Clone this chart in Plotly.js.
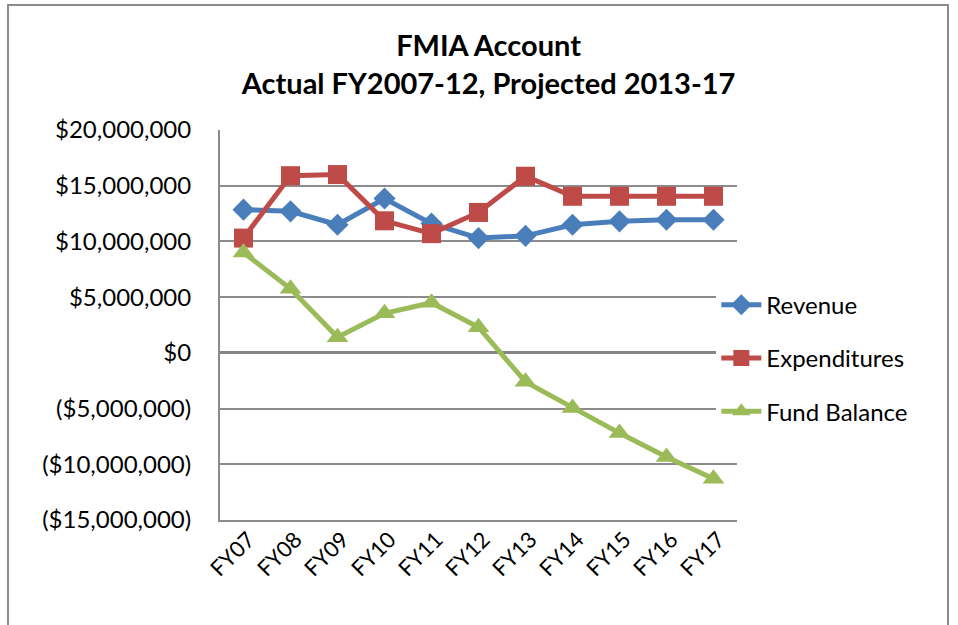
<!DOCTYPE html>
<html>
<head>
<meta charset="utf-8">
<script src="https://cdn.plot.ly/plotly-3.0.1.min.js"></script>
<style>
html,body{margin:0;padding:0;background:#fff;}
#chart{width:958px;height:625px;position:absolute;left:0;top:0;}
#frame{position:absolute;left:7px;top:4px;width:938px;height:660px;border:2px solid #8c8c8c;pointer-events:none;}
</style>
</head>
<body>
<div id="chart"></div>
<div id="frame"></div>
<script>
var categories = ["FY07","FY08","FY09","FY10","FY11","FY12","FY13","FY14","FY15","FY16","FY17"];
var revenue = [12850000,12700000,11500000,13850000,11600000,10300000,10500000,11500000,11800000,11950000,11950000];
var expenditures = [10300000,15900000,16000000,11850000,10700000,12600000,15850000,14050000,14050000,14050000,14050000];
var fundBalance = [9000000,5750000,1400000,3550000,4500000,2300000,-2600000,-4950000,-7200000,-9350000,-11300000];
var tickValues = [-15000000,-10000000,-5000000,0,5000000,10000000,15000000,20000000];
var tickLabels = ["($15,000,000)","($10,000,000)","($5,000,000)","$0","$5,000,000","$10,000,000","$15,000,000","$20,000,000"];

var fontFam = "Lato, 'Open Sans', sans-serif";
var traces = [
  {x:categories, y:revenue, name:"Revenue", type:"scatter", mode:"lines+markers", legendgroup:"a",
   line:{color:"#4A7EBB", width:5}, marker:{symbol:"diamond", size:17, color:"#4A7EBB"}},
  {x:categories, y:expenditures, name:"Expenditures", type:"scatter", mode:"lines+markers", legendgroup:"b",
   line:{color:"#BE4B48", width:5}, marker:{symbol:"square", size:19, color:"#BE4B48"}},
  {x:categories, y:fundBalance, name:"Fund Balance", type:"scatter", mode:"lines+markers", legendgroup:"c",
   line:{color:"#9BBB59", width:5}, marker:{symbol:"triangle-up", size:19, color:"#9BBB59"}}
];
var layout = {
  width:958, height:625,
  margin:{l:220, r:221, t:130, b:105},
  paper_bgcolor:"#fff", plot_bgcolor:"#fff",
  font:{family:fontFam, color:"#000", size:24},
  title:{text:"<b>FMIA Account<br>Actual FY2007-12, Projected 2013-17</b>", x:0.51, xref:"container", xanchor:"center",
         y:0.91, yref:"container", yanchor:"middle", font:{size:29, family:fontFam, color:"#000"}},
  showlegend:true,
  legend:{x:0.96, xanchor:"left", y:0.415, yanchor:"middle", bgcolor:"#fff", traceorder:"grouped",
          tracegroupgap:19, font:{size:24, family:fontFam}, itemwidth:40},
  xaxis:{type:"category", range:[-0.5,10.5], tickangle:-45, showgrid:false, showline:true, linecolor:"#8c8c8c", linewidth:2,
         ticks:"", tickfont:{size:22}, ticklabelshift:5, ticklabelstandoff:-4, zeroline:false, fixedrange:true},
  yaxis:{range:[-15000000,20000000], tickvals:tickValues, ticktext:tickLabels, showgrid:true, gridcolor:"#8c8c8c",
         gridwidth:2, showline:true, linecolor:"#8c8c8c", linewidth:2, zeroline:true, zerolinecolor:"#858585",
         zerolinewidth:3, ticks:"", ticklen:0, ticklabelstandoff:22, tickfont:{size:24}, fixedrange:true}
};
Plotly.newPlot("chart", traces, layout, {staticPlot:true});
</script>
</body>
</html>
